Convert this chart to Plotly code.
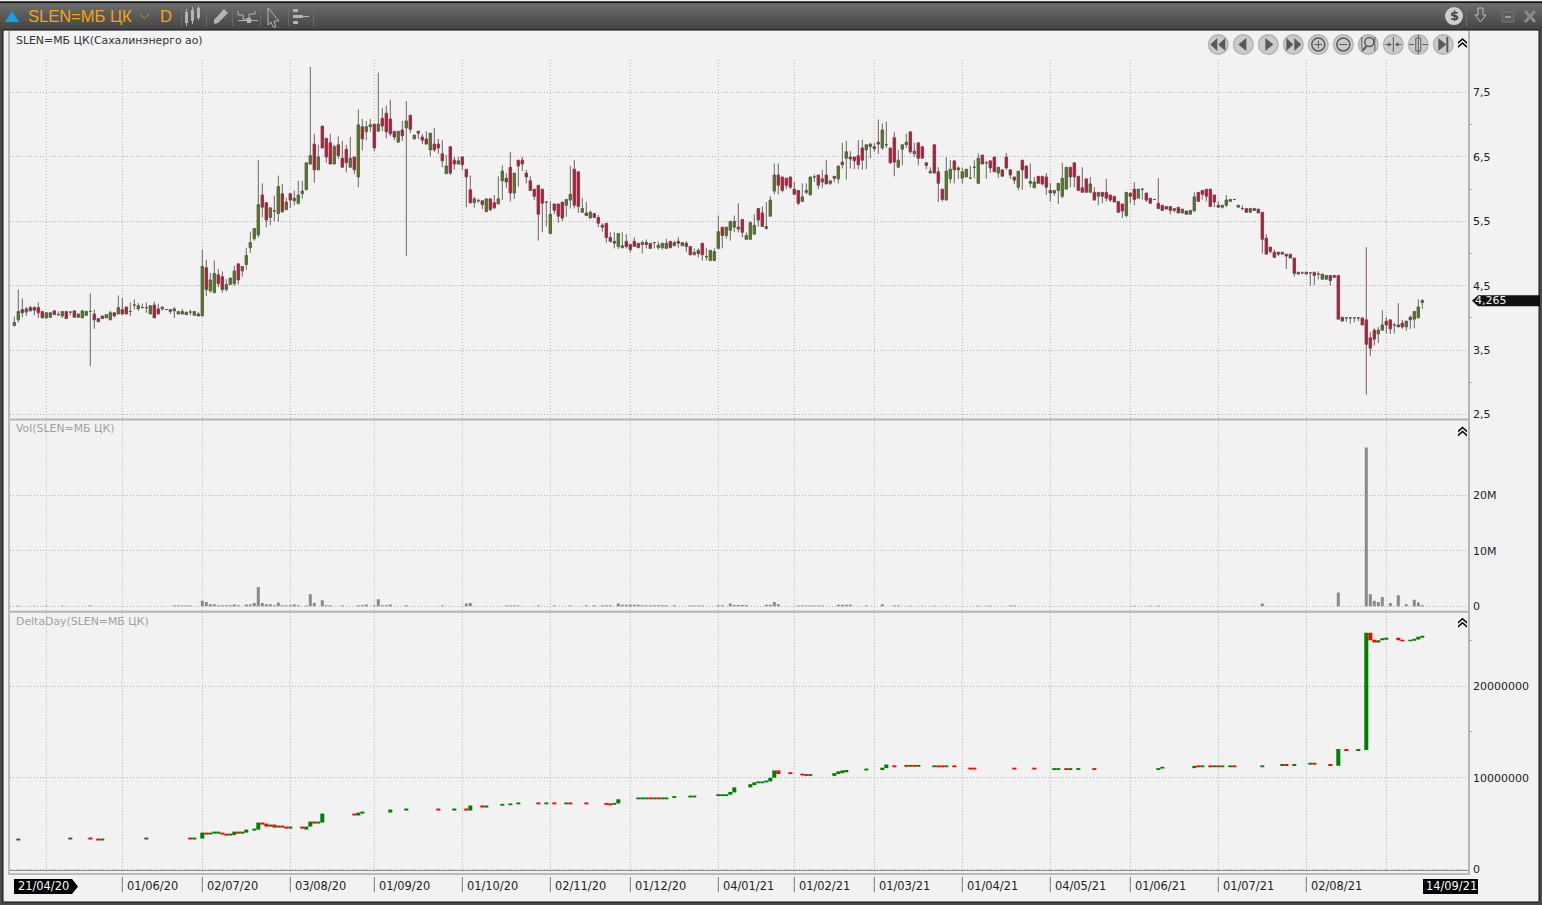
import plotly.graph_objects as go

W, H = 1542, 905

price_open = [
3.88,3.97,4.13,4.09,4.16,4.16,4.16,4.10,4.00,4.01,
4.11,4.05,4.03,4.10,4.09,4.11,4.01,4.00,4.04,4.10,
4.06,3.99,4.03,4.00,3.97,4.08,4.06,4.13,4.17,4.10,
4.20,4.14,4.16,4.16,4.06,4.20,4.14,4.14,4.13,4.10,
4.14,4.06,4.06,4.05,4.09,4.04,4.06,4.03,4.78,4.42,
4.39,4.67,4.64,4.44,4.52,4.53,4.84,4.73,4.83,5.09,
5.23,5.29,5.91,5.79,5.56,5.66,5.62,5.93,5.68,5.93,
5.82,5.78,5.93,5.99,6.39,6.70,6.30,6.98,6.79,6.72,
6.39,6.69,6.48,6.62,6.34,6.50,6.19,6.97,6.89,6.97,
7.01,6.90,7.10,7.18,7.09,6.90,6.73,6.92,6.95,7.15,
6.78,6.90,6.81,6.78,6.61,6.70,6.70,6.55,6.24,6.66,
6.45,6.39,6.50,6.31,5.99,5.79,5.82,5.82,5.65,5.85,
5.79,5.77,6.13,6.17,6.34,5.94,6.45,6.45,6.25,6.13,
6.00,6.06,6.00,5.80,5.31,5.77,5.77,5.80,5.75,5.83,
6.31,6.27,5.64,5.63,5.55,5.62,5.56,5.44,5.47,5.25,
5.16,5.11,5.09,5.19,5.14,5.19,5.16,5.14,5.17,5.16,
5.17,5.09,5.09,5.08,5.19,5.12,5.19,5.12,5.16,5.11,
4.98,5.05,5.16,4.95,4.89,4.89,5.08,5.41,5.28,5.36,
5.41,5.41,5.53,5.22,5.22,5.30,5.70,5.63,5.39,5.58,
5.97,6.22,6.19,6.17,6.19,6.00,5.98,5.81,5.95,5.91,
6.19,6.22,6.11,6.22,6.09,6.20,6.16,6.42,6.48,6.50,
6.50,6.52,6.64,6.61,6.66,6.66,6.73,6.64,6.69,6.64,
6.80,6.34,6.62,6.69,6.89,6.55,6.72,6.66,6.41,6.25,
6.69,6.27,6.00,5.83,6.16,6.44,6.30,6.17,6.19,6.17,
6.34,6.09,6.53,6.41,6.44,6.50,6.25,6.30,6.50,6.30,
6.19,6.03,6.45,6.36,6.09,6.02,6.20,6.20,6.19,5.98,
5.94,5.98,5.89,6.00,6.34,6.41,6.20,6.02,6.16,5.95,
5.95,5.89,5.95,5.95,5.91,5.89,5.81,5.77,5.59,5.94,
6.00,5.86,6.00,5.94,5.86,5.84,5.78,5.75,5.73,5.73,
5.67,5.72,5.63,5.66,5.61,5.66,5.95,5.98,6.00,6.00,
5.91,5.75,5.72,5.75,5.81,5.84,5.72,5.70,5.70,5.64,
5.70,5.69,5.64,5.24,5.10,5.02,5.02,4.99,4.99,4.99,
4.93,4.71,4.70,4.71,4.70,4.71,4.68,4.60,4.60,4.66,
4.66,4.66,4.01,4.00,4.00,4.00,4.00,4.00,3.97,3.69,
3.81,3.75,3.81,3.95,3.97,3.89,3.89,3.92,3.86,4.01,
3.98,4.00,4.24]

price_close = [
3.93,4.10,4.08,4.14,4.11,4.12,4.08,4.00,4.08,4.08,
4.05,4.05,4.10,3.99,4.09,4.01,4.06,4.11,4.10,4.10,
3.97,3.94,3.99,4.05,4.08,4.03,4.16,4.06,4.06,4.10,
4.20,4.19,4.16,4.16,4.19,4.00,4.06,4.17,4.13,4.13,
4.11,4.10,4.10,4.09,4.09,4.10,4.03,4.80,4.44,4.59,
4.69,4.53,4.44,4.52,4.62,4.73,4.59,4.80,4.97,5.17,
5.39,5.76,5.72,5.52,5.71,5.66,6.04,5.65,5.80,5.83,
5.86,5.91,5.97,6.41,6.52,6.30,6.50,6.64,6.50,6.39,
6.66,6.52,6.34,6.41,6.48,6.30,7.00,6.78,6.97,7.00,
6.64,7.01,6.98,6.89,6.86,6.81,6.90,6.83,7.06,6.93,
6.84,6.87,6.76,6.70,6.87,6.61,6.64,6.44,6.36,6.25,
6.39,6.44,6.38,6.19,5.79,5.85,5.82,5.76,5.85,5.68,
5.71,5.85,6.28,6.11,5.94,6.25,6.36,6.39,6.19,5.98,
5.89,5.61,5.78,5.80,5.61,5.67,5.58,5.55,5.84,5.92,
5.75,5.73,5.70,5.59,5.64,5.56,5.47,5.41,5.25,5.19,
5.19,5.31,5.12,5.11,5.06,5.11,5.09,5.17,5.14,5.08,
5.17,5.13,5.16,5.16,5.09,5.17,5.16,5.17,5.11,4.98,
5.02,5.00,4.98,4.95,5.05,5.03,5.34,5.28,5.41,5.50,
5.50,5.38,5.33,5.28,5.48,5.44,5.52,5.42,5.42,5.83,
6.22,6.06,5.98,6.06,6.03,5.92,5.78,5.88,5.98,6.19,
6.19,6.06,6.16,6.08,6.13,6.17,6.36,6.38,6.58,6.47,
6.44,6.38,6.45,6.69,6.70,6.63,6.70,6.92,6.69,6.41,
6.42,6.45,6.69,6.73,6.58,6.59,6.48,6.48,6.37,6.28,
6.25,6.09,5.84,6.28,6.31,6.30,6.33,6.27,6.31,6.17,
6.34,6.48,6.39,6.41,6.33,6.27,6.34,6.20,6.33,6.22,
6.14,6.28,6.30,6.17,6.12,6.11,6.09,6.08,6.03,5.94,
5.98,6.09,6.17,6.34,6.19,6.19,5.98,5.95,5.95,6.08,
5.83,5.95,5.89,5.86,5.83,5.80,5.64,5.66,5.95,5.89,
5.84,6.00,6.00,5.83,5.78,5.84,5.70,5.67,5.69,5.67,
5.70,5.63,5.69,5.61,5.67,5.88,5.81,5.92,5.89,5.73,
5.80,5.72,5.75,5.83,5.84,5.84,5.75,5.70,5.64,5.70,
5.67,5.63,5.22,4.99,5.03,4.94,4.99,5.02,4.96,4.93,
4.69,4.68,4.70,4.68,4.70,4.66,4.68,4.68,4.66,4.58,
4.63,3.98,3.95,4.00,4.00,4.00,4.00,3.89,3.59,3.53,
3.67,3.81,3.89,3.89,3.83,3.89,3.86,3.86,3.95,3.97,
4.10,4.17,4.27]

price_high = [
4.02,4.44,4.30,4.17,4.19,4.18,4.24,4.10,4.09,4.09,
4.11,4.10,4.10,4.10,4.09,4.11,4.07,4.12,4.11,4.38,
4.13,3.99,4.03,4.05,4.11,4.08,4.35,4.31,4.17,4.24,
4.29,4.23,4.22,4.24,4.19,4.25,4.22,4.17,4.13,4.13,
4.17,4.10,4.14,4.09,4.13,4.10,4.09,5.06,4.90,4.70,
4.89,4.76,4.72,4.60,4.62,4.81,4.84,4.80,5.09,5.34,
5.39,6.45,6.09,5.79,5.71,5.90,6.21,6.08,5.87,5.93,
5.98,6.13,6.13,6.41,7.90,6.86,6.69,6.98,6.79,6.86,
6.69,6.82,6.75,6.69,6.81,6.50,7.24,7.09,7.06,7.09,
7.01,7.81,7.26,7.30,7.39,6.90,6.90,7.06,7.37,7.15,
6.84,6.90,6.86,6.90,6.87,6.95,6.78,6.76,6.53,6.66,
6.50,6.50,6.50,6.31,6.21,5.88,5.85,5.82,5.85,5.85,
5.91,6.20,6.37,6.25,6.58,6.25,6.45,6.50,6.30,6.20,
6.00,6.06,6.00,5.80,5.81,5.77,5.77,5.80,5.84,6.36,
6.45,6.27,5.86,5.80,5.67,5.62,5.60,5.47,5.47,5.33,
5.33,5.31,5.33,5.30,5.14,5.25,5.16,5.20,5.22,5.16,
5.17,5.19,5.16,5.23,5.19,5.20,5.25,5.17,5.19,5.11,
5.08,5.08,5.16,5.09,5.05,5.08,5.59,5.41,5.41,5.50,
5.59,5.78,5.53,5.33,5.50,5.61,5.70,5.73,5.80,5.89,
6.40,6.40,6.19,6.17,6.19,6.11,5.98,6.09,6.09,6.19,
6.23,6.22,6.30,6.45,6.13,6.20,6.36,6.72,6.75,6.59,
6.50,6.76,6.77,6.69,6.72,6.72,7.08,7.02,7.05,6.64,
6.89,6.61,6.69,6.86,6.89,6.72,6.72,6.66,6.41,6.34,
6.69,6.34,6.00,6.50,6.45,6.44,6.36,6.34,6.31,6.36,
6.45,6.56,6.53,6.44,6.44,6.50,6.34,6.30,6.56,6.30,
6.19,6.28,6.45,6.36,6.40,6.19,6.20,6.20,6.25,6.09,
5.98,6.09,6.41,6.34,6.34,6.41,6.20,6.34,6.16,6.19,
6.03,5.95,5.95,6.16,5.91,5.89,5.81,5.77,5.95,5.94,
6.11,6.00,6.00,5.94,5.86,5.84,6.17,5.75,5.73,5.73,
5.70,5.72,5.69,5.66,5.67,5.95,5.95,5.98,6.00,6.00,
5.91,5.81,5.75,5.91,5.84,5.84,5.75,5.75,5.70,5.70,
5.70,5.69,5.64,5.30,5.10,5.06,5.02,5.02,4.99,4.99,
4.93,4.71,4.72,4.71,4.70,4.71,4.72,4.68,4.66,4.66,
4.66,4.66,4.01,4.00,4.00,4.00,4.01,4.00,5.10,3.78,
3.84,3.86,4.12,4.01,3.97,3.92,4.23,3.97,3.95,4.04,
4.10,4.29,4.29]

price_low = [
3.87,3.93,4.01,4.03,4.10,4.04,4.00,4.00,3.99,4.00,
4.05,4.04,4.00,3.99,4.04,4.01,4.00,4.00,4.03,3.25,
3.83,3.94,3.98,4.00,3.97,4.01,4.06,4.05,4.06,4.03,
4.13,4.11,4.15,4.08,4.06,4.00,4.06,4.11,4.13,4.06,
4.00,4.06,4.06,4.05,4.04,4.04,4.03,4.03,4.34,4.39,
4.39,4.48,4.39,4.41,4.52,4.50,4.52,4.64,4.75,5.01,
5.20,5.25,5.56,5.41,5.44,5.50,5.49,5.63,5.68,5.71,
5.75,5.76,5.85,5.99,6.38,6.10,6.30,6.64,6.41,6.39,
6.39,6.47,6.34,6.26,6.34,6.23,6.03,6.60,6.76,6.89,
6.59,6.90,6.90,6.79,6.82,6.76,6.73,6.75,4.96,6.87,
6.78,6.78,6.70,6.70,6.51,6.58,6.55,6.34,6.24,6.22,
6.30,6.39,6.30,5.72,5.77,5.71,5.79,5.69,5.65,5.66,
5.69,5.77,5.83,6.02,5.81,5.85,6.04,6.28,6.09,5.98,
5.83,5.20,5.33,5.42,5.31,5.61,5.48,5.50,5.57,5.70,
5.70,5.63,5.64,5.59,5.55,5.56,5.41,5.34,5.17,5.17,
5.08,5.07,5.09,5.08,5.02,5.11,5.09,5.00,5.08,5.08,
5.08,5.06,5.06,5.08,5.09,5.12,5.09,5.12,5.02,4.97,
4.98,4.94,4.89,4.89,4.89,4.89,5.08,5.08,5.23,5.20,
5.33,5.33,5.25,5.22,5.22,5.30,5.42,5.42,5.37,5.58,
5.92,5.92,5.95,6.00,6.00,5.92,5.75,5.81,5.92,5.91,
6.11,6.00,6.02,6.08,6.06,6.11,6.09,6.32,6.15,6.32,
6.31,6.31,6.30,6.31,6.48,6.58,6.55,6.61,6.64,6.39,
6.20,6.34,6.37,6.64,6.55,6.50,6.37,6.48,6.31,6.25,
6.25,5.80,5.81,5.83,6.09,6.09,6.16,6.09,6.19,6.17,
6.17,6.09,6.39,6.16,6.25,6.27,6.17,6.20,6.30,6.16,
6.08,5.98,5.99,6.17,6.03,6.02,6.09,6.06,5.91,5.81,
5.90,5.77,5.86,6.00,6.03,6.03,5.97,5.95,5.95,5.95,
5.83,5.75,5.78,5.81,5.80,5.80,5.64,5.55,5.56,5.78,
5.75,5.86,5.84,5.80,5.78,5.84,5.69,5.67,5.69,5.61,
5.64,5.63,5.63,5.61,5.61,5.66,5.81,5.84,5.81,5.73,
5.72,5.72,5.70,5.72,5.81,5.84,5.72,5.67,5.64,5.64,
5.67,5.63,5.00,4.99,5.00,4.94,4.96,4.99,4.76,4.93,
4.64,4.68,4.68,4.68,4.50,4.51,4.60,4.60,4.60,4.50,
4.63,3.98,3.95,3.94,3.91,3.93,3.95,3.89,2.81,3.41,
3.57,3.61,3.81,3.76,3.75,3.76,3.86,3.83,3.80,3.83,
3.84,4.00,4.14]

days = list(range(len(price_open)))

vol_days = [1,5,8,12,19,40,41,42,43,44,47,48,49,50,51,52,53,54,55,56,58,59,60,61,62,63,64,65,66,67,68,69,70,71,73,
            74,75,77,78,79,82,86,87,88,90,91,92,93,94,98,107,113,114,123,124,125,126,131,135,139,143,145,147,148,149,
            151,152,153,154,155,156,157,158,159,160,161,162,163,165,169,170,171,172,176,177,179,180,181,182,183,188,189,
            190,191,196,197,198,199,200,201,202,206,207,208,209,213,217,220,221,224,227,230,233,241,243,244,249,250,280,
            284,286,312,331,338,339,340,341,342,344,346,348,350,351,352]
vol_m = [.12,.12,.12,.12,.15,.15,.15,.15,.15,.15,1.0,.8,.4,.4,.2,.2,.2,.2,.35,.2,.35,.35,.6,3.5,.6,.4,.4,.2,.7,.2,.2,.2,.35,.2,.15,
         2.2,.6,1.1,.2,.2,.15,.2,.2,.35,.15,1.3,.2,.2,.35,.2,.15,.5,.6,.15,.15,.15,.15,.15,.15,.15,.2,.2,.2,.2,.2,
         .5,.3,.3,.3,.3,.3,.2,.2,.2,.2,.2,.2,.2,.2,.15,.15,.15,.15,.2,.2,.5,.25,.25,.25,.25,.3,.3,
         .8,.4,.15,.15,.15,.15,.15,.15,.15,.3,.3,.3,.3,.15,.4,.15,.15,.12,.12,.12,.12,.12,.12,.12,.15,.15,.1,
         .1,.1,.5,2.5,28.6,2.2,1.0,.8,1.7,.6,2.0,.4,1.2,.7,.2]

delta_days = [
1,14,19,21,22,33,44,45,47,48,49,50,51,52,53,54,55,56,57,58,
60,61,62,63,64,65,66,67,68,69,72,73,74,75,76,77,85,86,87,94,
98,106,110,113,114,117,118,122,124,126,131,133,135,138,139,143,148,149,150,151,
156,157,158,159,160,161,162,163,165,169,170,176,177,178,179,180,184,185,186,187,
188,189,190,191,194,197,198,199,205,206,207,208,213,217,218,220,223,224,225,226,
230,231,232,233,235,239,240,250,255,260,261,263,264,266,270,286,287,295,296,297,
299,300,301,302,304,305,312,317,318,320,324,325,329,331,333,336,338,339,340,341,
342,343,346,347,349,350,351,352]
delta_open = [
3.15,3.26,3.47,3.36,3.15,3.26,3.47,3.26,3.36,4.01,3.80,3.90,3.90,4.01,3.90,3.69,3.75,4.12,3.90,4.01,
4.23,4.34,5.11,5.00,4.67,4.89,4.56,4.78,4.67,4.45,4.67,4.34,4.67,5.22,5.00,5.11,6.09,5.88,6.09,6.20,
6.42,6.64,6.42,6.64,6.42,6.97,6.75,6.95,7.00,7.10,7.30,7.10,7.30,7.10,7.30,7.30,7.25,7.20,7.05,7.20,
7.65,7.65,7.65,7.85,7.65,7.85,7.65,7.65,7.80,7.85,7.85,8.00,8.00,8.00,8.15,8.40,8.95,9.20,9.40,9.40,
9.50,9.60,10.00,10.80,10.60,10.45,10.40,10.20,10.20,10.40,10.50,10.60,10.80,10.85,11.05,11.35,11.40,11.20,11.40,11.20,
11.15,11.35,11.35,11.15,11.35,11.10,11.10,11.10,11.10,10.85,10.85,11.05,10.85,10.85,11.05,10.85,11.00,11.05,11.35,11.15,
11.35,11.15,11.35,11.15,11.15,11.35,11.15,11.28,11.50,11.28,11.43,11.63,11.50,11.31,13.14,12.92,13.03,25.84,25.07,24.78,
25.00,25.07,25.29,25.07,24.89,24.96,25.10,25.29]
delta_close = [
3.36,3.47,3.26,3.15,3.36,3.47,3.26,3.47,4.01,3.80,4.01,4.12,4.12,3.80,3.69,3.90,4.12,3.90,4.12,4.34,
4.45,5.11,4.89,4.67,4.89,4.56,4.78,4.56,4.45,4.67,4.45,4.67,5.22,5.00,5.22,6.09,5.88,6.20,6.31,6.53,
6.64,6.42,6.64,6.42,6.97,6.75,6.97,7.15,7.20,7.30,7.10,7.30,7.10,7.30,7.10,7.10,7.05,7.00,7.25,7.65,
7.85,7.85,7.85,7.65,7.85,7.65,7.85,7.85,8.00,8.05,8.05,8.20,8.20,8.20,8.45,8.95,9.30,9.50,9.60,9.60,
9.70,10.00,10.80,10.40,10.40,10.25,10.20,10.40,10.50,10.70,10.80,10.85,11.00,11.10,11.45,11.15,11.20,11.40,11.20,11.40,
11.35,11.15,11.15,11.35,11.15,10.90,10.90,10.90,10.90,11.05,11.05,10.85,11.05,11.05,10.85,11.05,11.20,11.30,11.15,11.35,
11.15,11.35,11.15,11.35,11.35,11.15,11.35,11.50,11.28,11.50,11.63,11.43,11.28,13.14,12.92,13.14,25.84,25.00,24.78,25.00,
25.22,25.29,25.00,24.89,25.07,25.18,25.40,25.51]

month_days = [27,47,69,90,112,134,154,176,195,215,237,259,279,301,323]
month_labels = ["01/06/20","02/07/20","03/08/20","01/09/20","01/10/20","02/11/20","01/12/20","04/01/21",
                "01/02/21","01/03/21","01/04/21","04/05/21","01/06/21","01/07/21","02/08/21"]
grid_days = [8] + month_days + [343]

price_ticks = [7.5,6.5,5.5,4.5,3.5,2.5]
price_tick_text = ["7,5","6,5","5,5","4,5","3,5","2,5"]
vol_ticks = [0,10,20]
vol_tick_text = ["0","10M","20M"]
delta_ticks = [0,10,20]
delta_tick_text = ["0","10000000","20000000"]

# ---- layout helpers (pixels -> paper) ----
PX = lambda x: x / W
PY = lambda y: 1 - y / H
shapes, notes = [], []

def rect(x0, y0, x1, y1, fill, line=None, layer="below"):
    shapes.append(dict(type="rect", xref="paper", yref="paper", x0=PX(x0), x1=PX(x1), y0=PY(y0), y1=PY(y1),
                       fillcolor=fill, line=dict(width=1 if line else 0, color=line or fill), layer=layer))

def circle(cx, cy, r, fill, line=None):
    shapes.append(dict(type="circle", xref="paper", yref="paper", x0=PX(cx-r), x1=PX(cx+r), y0=PY(cy-r), y1=PY(cy+r),
                       fillcolor=fill, line=dict(width=1.5 if line else 0, color=line or fill), layer="below"))

def poly(pts, fill=None, line=None, width=1, layer="below", close=True):
    d = "M" + " L".join(f"{PX(x):.5f},{PY(y):.5f}" for x, y in pts) + (" Z" if close else "")
    s = dict(type="path", xref="paper", yref="paper", path=d, layer=layer,
             line=dict(width=width if line else 0, color=line or "rgba(0,0,0,0)"))
    if fill:
        s["fillcolor"] = fill
    shapes.append(s)

def text(x, y, s, size=11, color="#222", family="DejaVu Sans", anchor="left"):
    notes.append(dict(xref="paper", yref="paper", x=PX(x), y=PY(y), text=s, showarrow=False, xanchor=anchor,
                      yanchor="middle", font=dict(size=size, color=color, family=family), borderpad=0, borderwidth=0))

# frame and window
rect(0, 0, W, H, "#4a4a4a")
rect(0, 0, W, 1.5, "#f0f0f0")
rect(0, 1.5, W, 3, "#111111")
bands = ["#6b6b6b","#696969","#666666","#636363","#606060","#5c5c5c","#595959","#565656","#535353","#505050","#4d4d4d","#4a4a4a","#474747","#444444"]
for k, c in enumerate(bands):
    rect(0, 3 + 2*k, W, 5 + 2*k, c)
rect(3, 30, 1539, 901, "#f2f2f2", "#111111")
rect(8, 31, 10, 873, "#bcbcbc")
rect(1468, 31, 1470, 873, "#b5b5b5")
rect(10, 418, 1468, 420, "#b5b5b5")
rect(10, 610, 1468, 612, "#b5b5b5")
rect(8, 872, 1470, 874, "#bcbcbc")
rect(10, 869, 1468, 870, "#8e8e8e")

# vertical dotted grid, one run per panel
for d in grid_days:
    for y0, y1 in ((60, 418), (420, 610), (612, 873)):
        shapes.append(dict(type="line", xref="x", yref="paper", x0=d, x1=d, y0=PY(y0), y1=PY(y1), layer="below",
                           line=dict(color="#b0b0b0", width=1, dash="1px,2px")))
# date ticks + labels
for d, lab in zip(month_days, month_labels):
    shapes.append(dict(type="line", xref="x", yref="paper", x0=d, x1=d, y0=PY(876), y1=PY(891), layer="below",
                       line=dict(color="#777", width=1)))
    notes.append(dict(xref="x", yref="paper", x=d, y=PY(885), xshift=3, text=lab, showarrow=False, xanchor="left",
                      yanchor="middle", font=dict(size=11.4, color="#222", family="DejaVu Sans")))
poly([(14,878),(72,878),(78,885.5),(72,893),(14,893)], fill="#000000")
text(18, 885.5, "21/04/20", size=11.4, color="#fff")
rect(1423, 878, 1478, 893, "#000000")
text(1426, 885.5, "14/09/21", size=11.4, color="#fff")

# header
poly([(5,22),(12,11),(19,22)], fill="#0aa5ee")
text(28, 15.5, "SLEN=МБ ЦК", size=16.5, color="#f7a20f", family="Liberation Sans")
poly([(140,14),(144.5,18.5),(149,14)], line="#c98a20", close=False)
text(160, 15.5, "D", size=16.5, color="#f7a20f", family="Liberation Sans")
for sx in (181, 206, 232, 260, 288, 313):
    rect(sx, 6, sx+1, 26, "#6a6a6a")
IC = "#b4b4b4"
rect(185, 12, 188, 23, IC); rect(191, 10, 194, 21, IC); rect(197, 8, 200, 18, IC)
poly([(186.5,9),(186.5,26)], line=IC, close=False); poly([(192.5,7),(192.5,24)], line=IC, close=False); poly([(198.5,6),(198.5,20)], line=IC, close=False)
poly([(214,20),(224,9),(228,13),(218,23),(214,24)], fill=IC)
poly([(238,11),(238,15),(243,15),(243,19),(249,19),(249,14),(255,14),(255,11)], line=IC, close=False)
rect(238, 20, 258, 21, IC); rect(247, 18, 251, 23, IC)
poly([(268,8),(279,21),(274,21),(276,27),(273,27),(271,22),(268,25)], line=IC)
rect(293, 9, 298, 12, IC); rect(293, 15, 303, 18, IC); rect(293, 21, 298, 24, IC); rect(303, 16, 309, 17, IC)

circle(1454, 16, 9, "#cfcfcf")
text(1454, 15.5, "<b>$</b>", size=13, color="#444", anchor="center")
rect(1466, 6, 1467, 26, "#6a6a6a")
poly([(1478,8),(1483,8),(1483,15),(1486,15),(1480.5,22),(1475,15),(1478,15)], line="#bdbdbd")
rect(1502, 12, 1514, 22, "#5d5d5d", "#777777"); rect(1505, 16, 1511, 18, "#9a9a9a")
poly([(1525,11),(1535,22)], line="#8a8a8a", width=3, close=False); poly([(1535,11),(1525,22)], line="#8a8a8a", width=3, close=False)

# navigation buttons
GL = "#5a5a5a"
centers = [1218.3,1243.3,1268.3,1293.3,1318.3,1343.3,1368.3,1393.3,1418.3,1443.3]
for c in centers:
    circle(c, 44.5, 9.8, "#cbcbcb", "#b4b4b4")
c = centers[0]; poly([(c-1,38),(c-1,51),(c-8,44.5)], fill=GL); poly([(c+7,38),(c+7,51),(c,44.5)], fill=GL)
c = centers[1]; poly([(c+3,38),(c+3,51),(c-5,44.5)], fill=GL)
c = centers[2]; poly([(c-3,38),(c-3,51),(c+5,44.5)], fill=GL)
c = centers[3]; poly([(c-7,38),(c-7,51),(c,44.5)], fill=GL); poly([(c+1,38),(c+1,51),(c+8,44.5)], fill=GL)
c = centers[4]; circle(c, 44.5, 6.5, "#cbcbcb", GL); rect(c-4, 44, c+4, 45, GL); rect(c-0.5, 40.5, c+0.5, 48.5, GL)
c = centers[5]; circle(c, 44.5, 6.5, "#cbcbcb", GL); rect(c-4, 44, c+4, 45, GL)
c = centers[6]; circle(c+1, 42, 4.5, "#cbcbcb", GL); poly([(c-2,46),(c-6,51)], line=GL, width=2, close=False); rect(c-7, 37, c-6, 49, GL); rect(c+6, 37, c+7, 51, GL)
c = centers[7]; rect(c-0.5, 37, c+0.5, 52, GL); poly([(c-8,44.5),(c-2,44.5)], line=GL, close=False); poly([(c+2,44.5),(c+8,44.5)], line=GL, close=False); poly([(c-5,42),(c-2,44.5),(c-5,47)], fill=GL); poly([(c+5,42),(c+2,44.5),(c+5,47)], fill=GL)
c = centers[8]; rect(c-2.5, 38, c+2.5, 51, "#cbcbcb", GL); rect(c-0.5, 35, c+0.5, 54, GL); poly([(c-9,44.5),(c-4,44.5)], line=GL, close=False); poly([(c+4,44.5),(c+9,44.5)], line=GL, close=False)
c = centers[9]; poly([(c-5,38),(c-5,51),(c+3,44.5)], fill=GL); rect(c+3, 37, c+5, 52, GL)
for cy in (43, 431, 622):
    poly([(1458,cy-1),(1462.5,cy-5),(1467,cy-1),(1467,cy+1),(1462.5,cy-3),(1458,cy+1)], fill="#000")
    poly([(1458,cy+3),(1462.5,cy-1),(1467,cy+3),(1467,cy+5),(1462.5,cy+1),(1458,cy+5)], fill="#000")

# panel titles
text(16, 40.5, "SLEN=МБ ЦК(Сахалинэнерго ао)", size=10.9, color="#333")
text(16, 428.5, "Vol(SLEN=МБ ЦК)", size=10.9, color="#a0a0a0")
text(16, 620.5, "DeltaDay(SLEN=МБ ЦК)", size=10.9, color="#a0a0a0")

# last price tag
poly([(1472,300.5),(1478,295),(1540,295),(1540,306),(1478,306)], fill="#101010", layer="above")
text(1475, 300.5, "4,265", size=11, color="#f0f0f0")

# ---- traces ----
fig = go.Figure()
fig.add_trace(go.Candlestick(x=days, open=price_open, high=price_high, low=price_low, close=price_close,
                             xaxis="x", yaxis="y", whiskerwidth=0,
                             increasing=dict(line=dict(color="#56604a", width=0.9), fillcolor="#4e7f12"),
                             decreasing=dict(line=dict(color="#6a4a50", width=0.9), fillcolor="#e8002c")))
fig.add_trace(go.Bar(x=vol_days, y=vol_m, width=0.75, marker=dict(color="#8a8a8a", line=dict(width=0)), xaxis="x", yaxis="y2"))
fig.add_trace(go.Bar(x=delta_days,
                     y=[abs(c - o) for o, c in zip(delta_open, delta_close)],
                     base=[min(o, c) for o, c in zip(delta_open, delta_close)],
                     width=1,
                     marker=dict(color=["#008000" if c >= o else "#ff0000" for o, c in zip(delta_open, delta_close)], line=dict(width=0)),
                     xaxis="x", yaxis="y3"))

def yax(top, bottom, rng, vals, labels, minor=None, anchor="x"):
    d = dict(domain=[PY(bottom), PY(top)], range=rng, autorange=False, side="right", anchor=anchor,
             tickmode="array", tickvals=vals, ticktext=labels, showline=False, zeroline=False,
             ticks="", ticklabelstandoff=4, tickfont=dict(family="DejaVu Sans", size=11, color="#222"),
             showgrid=True, gridcolor="#b4b4b4", griddash="1px,2px", gridwidth=1)
    if minor:
        d["minor"] = dict(tickmode="array", tickvals=minor, ticks="outside", ticklen=3, tickcolor="#b0b0b0", showgrid=False)
    return d

fig.update_layout(
    width=W, height=H + 4, autosize=False, margin=dict(l=0, r=0, t=0, b=0),
    paper_bgcolor="#4a4a4a", plot_bgcolor="rgba(0,0,0,0)", showlegend=False, dragmode=False,
    barmode="overlay", boxgap=0.12, hovermode=False,
    xaxis=dict(domain=[PX(10), PX(1468)], range=[(10-14.3)/4, (1468-14.3)/4], type="linear", anchor="y3",
               showgrid=False, showticklabels=False, zeroline=False, showline=False, ticks="",
               rangeslider=dict(visible=False)),
    yaxis=yax(31, 418, [7.5 - (418-92.5)/64.3, 7.5 + (92.5-31)/64.3], price_ticks, price_tick_text, [7,6,5,4,3]),
    yaxis2=yax(420, 610, [(605.7-610)/5.55, (605.7-420)/5.55], vol_ticks, vol_tick_text),
    yaxis3=yax(612, 873, [(868.4-873)/9.15, (868.4-612)/9.15], delta_ticks, delta_tick_text, [15,25]),
    shapes=shapes, annotations=notes,
)

fig.write_html("out.html", config=dict(displayModeBar=False, staticPlot=True),
               post_script="document.body.style.margin='0';document.body.style.overflow='hidden';document.documentElement.style.overflow='hidden';")
